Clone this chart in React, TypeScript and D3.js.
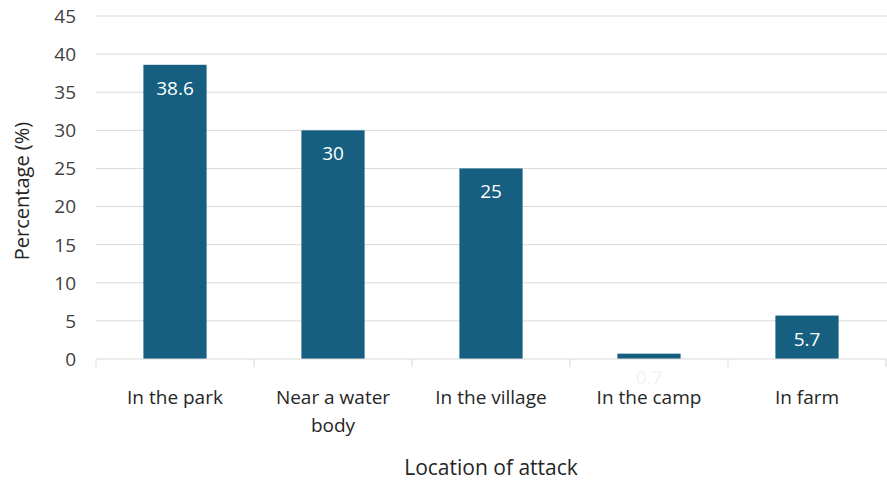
import React from "react";
import * as d3 from "d3";

const categories = ["In the park", "Near a water body", "In the village", "In the camp", "In farm"];
const categoryLines = [["In the park"], ["Near a water", "body"], ["In the village"], ["In the camp"], ["In farm"]];
const values = [38.6, 30, 25, 0.7, 5.7];
const yTicks = [0, 5, 10, 15, 20, 25, 30, 35, 40, 45];

const W = 887, H = 482;
const margin = { left: 96, right: 0, top: 16, bottom: 123 };
const FONT = "'Open Sans', 'Noto Sans', sans-serif";

export default function App() {
  const x = d3.scaleBand<string>().domain(categories).range([margin.left, W - 1]).paddingInner(0.6).paddingOuter(0.3);
  const y = d3.scaleLinear().domain([0, 45]).range([H - margin.bottom, margin.top]);
  const y0 = y(0);
  const bounds = categories.map((c) => (x(c) as number) - x.step() * x.paddingInner() / 2);
  bounds.push(W - 1);
  return (
    <svg width={W} height={H} style={{ position: "absolute", left: 0, top: 0, background: "#fff" }} fontFamily={FONT}>
      {yTicks.map((t) => (
        <g key={t}>
          {t > 0 && <line x1={margin.left} x2={W} y1={y(t)} y2={y(t)} stroke="#d9d9d9" strokeWidth={1} />}
          <text x={76} y={y(t)} dy="0.36em" textAnchor="end" fontSize={19} fill="#404040">{t}</text>
        </g>
      ))}
      {categories.map((c, i) => (
        <rect key={c} x={x(c)} width={x.bandwidth()} y={y(values[i])} height={y0 - y(values[i])} fill="#175f80" />
      ))}
      <line x1={margin.left} x2={W} y1={y0} y2={y0} stroke="#d9d9d9" strokeWidth={1} />
      {bounds.map((b, i) => (
        <line key={i} x1={b} x2={b} y1={y0} y2={y0 + 8} stroke="#d9d9d9" strokeWidth={1} />
      ))}
      {categories.map((c, i) => (
        <text key={c} x={(x(c) as number) + x.bandwidth() / 2} y={y(values[i]) + 30} textAnchor="middle" fontSize={19}
          fill={values[i] < 2 ? "#f2f2f2" : "#ffffff"}>{values[i]}</text>
      ))}
      {categories.map((c, i) => (
        <text key={c} x={(x(c) as number) + x.bandwidth() / 2} y={404} textAnchor="middle" fontSize={19} fill="#262626">
          {categoryLines[i].map((l, j) => (
            <tspan key={j} x={(x(c) as number) + x.bandwidth() / 2} dy={j === 0 ? 0 : 28}>{l}</tspan>
          ))}
        </text>
      ))}
      <text x={491} y={475} textAnchor="middle" fontSize={21} fill="#262626">Location of attack</text>
      <text transform={`translate(29, 191) rotate(-90)`} textAnchor="middle" fontSize={20} fill="#262626">Percentage (%)</text>
    </svg>
  );
}
